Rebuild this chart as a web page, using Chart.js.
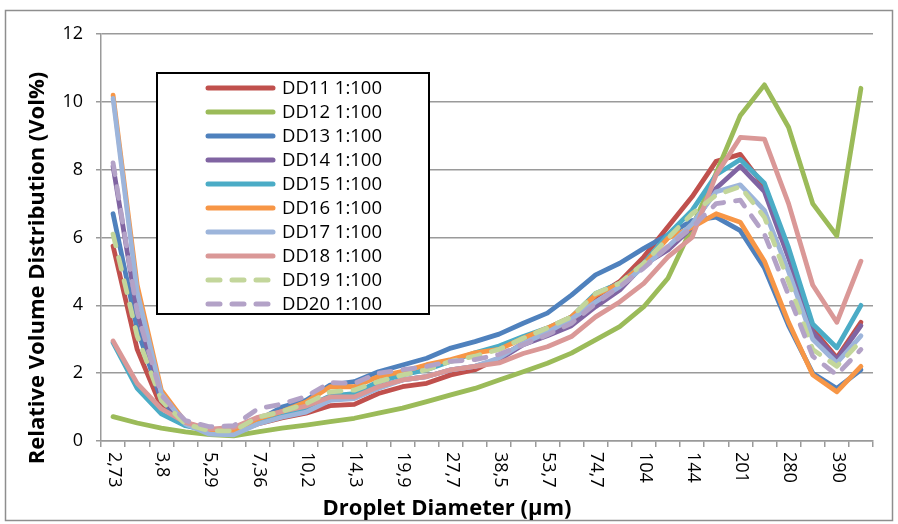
<!DOCTYPE html>
<html>
<head>
<meta charset="utf-8">
<script src="https://cdn.jsdelivr.net/npm/chart.js@4.4.1/dist/chart.umd.min.js"></script>
<style>
body { margin: 0; background: #fff; }
canvas { display: block; }
</style>
</head>
<body>
<canvas id="chart" width="898" height="524"></canvas>
<script>
// size classes in µm, the axis only labels every other one
const diameters = ['2,73','3,22','3,8','4,48','5,29','6,24','7,36','8,68','10,2','12,0','14,3','16,9',
    '19,9','23,5','27,7','32,7','38,5','45,4','53,7','63,4','74,7','88,1','104','123',
    '144','170','201','237','280','330','390','460'];

const dd11 = [5.75, 2.7, 1.0, 0.5, 0.25, 0.25, 0.5, 0.68, 0.82, 1.04, 1.08, 1.4, 1.6, 1.7, 1.95, 2.1,
    2.45, 2.88, 3.18, 3.56, 4.25, 4.7, 5.43, 6.32, 7.2, 8.25, 8.45, 7.5, 5.55, 3.3, 2.45, 3.5];
const dd12 = [0.72, 0.53, 0.38, 0.27, 0.19, 0.15, 0.27, 0.38, 0.47, 0.57, 0.67, 0.82, 0.97, 1.16, 1.36, 1.55,
    1.8, 2.04, 2.29, 2.59, 2.98, 3.37, 3.96, 4.8, 6.3, 7.9, 9.6, 10.5, 9.25, 7.0, 6.05, 10.4];
const dd13 = [6.7, 3.3, 1.2, 0.5, 0.25, 0.25, 0.6, 1.0, 1.2, 1.65, 1.75, 2.04, 2.24, 2.44, 2.74, 2.93,
    3.15, 3.47, 3.77, 4.3, 4.9, 5.24, 5.68, 6.08, 6.5, 6.6, 6.2, 5.1, 3.4, 2.0, 1.55, 2.1];
const dd14 = [8.1, 3.8, 1.3, 0.5, 0.25, 0.3, 0.6, 0.73, 0.9, 1.3, 1.3, 1.6, 1.8, 1.9, 2.1, 2.2,
    2.4, 2.84, 3.1, 3.4, 3.96, 4.45, 5.2, 5.63, 6.3, 7.45, 8.1, 7.35, 5.4, 3.2, 2.4, 3.4];
const dd15 = [2.9, 1.55, 0.8, 0.45, 0.3, 0.3, 0.6, 0.8, 1.0, 1.33, 1.4, 1.75, 1.95, 2.1, 2.35, 2.6,
    2.8, 3.08, 3.33, 3.66, 4.35, 4.65, 5.24, 6.08, 6.8, 7.85, 8.3, 7.6, 5.7, 3.45, 2.75, 4.0];
const dd16 = [10.2, 4.6, 1.5, 0.55, 0.3, 0.3, 0.65, 0.87, 1.15, 1.6, 1.6, 1.9, 2.05, 2.25, 2.4, 2.6,
    2.7, 3.03, 3.33, 3.66, 4.3, 4.65, 5.2, 5.98, 6.3, 6.7, 6.45, 5.3, 3.5, 1.95, 1.45, 2.2];
const dd17 = [10.1, 4.4, 1.4, 0.5, 0.2, 0.18, 0.5, 0.7, 0.85, 1.2, 1.25, 1.55, 1.8, 1.9, 2.1, 2.2,
    2.45, 2.88, 3.2, 3.6, 4.1, 4.55, 5.14, 5.73, 6.4, 7.35, 7.55, 6.8, 5.0, 3.0, 2.3, 3.1];
const dd18 = [2.95, 1.7, 0.95, 0.55, 0.35, 0.4, 0.7, 0.87, 1.03, 1.3, 1.3, 1.6, 1.8, 1.9, 2.1, 2.2,
    2.3, 2.58, 2.78, 3.08, 3.66, 4.1, 4.65, 5.43, 6.0, 7.85, 8.95, 8.9, 7.0, 4.6, 3.5, 5.3];
const dd19 = [6.1, 3.1, 1.2, 0.5, 0.3, 0.3, 0.7, 0.87, 1.1, 1.45, 1.5, 1.75, 1.95, 2.1, 2.35, 2.5,
    2.7, 3.03, 3.33, 3.66, 4.35, 4.65, 5.24, 5.98, 6.7, 7.25, 7.5, 6.6, 4.7, 2.7, 2.2, 2.95];
const dd20 = [8.2, 3.8, 1.35, 0.6, 0.42, 0.45, 0.95, 1.09, 1.31, 1.72, 1.7, 2.0, 2.1, 2.2, 2.35, 2.4,
    2.55, 2.84, 3.13, 3.47, 4.05, 4.55, 5.1, 5.73, 6.3, 7.0, 7.1, 6.1, 4.3, 2.5, 1.95, 2.7];

const seriesNames = ['DD11 1:100','DD12 1:100','DD13 1:100','DD14 1:100','DD15 1:100',
    'DD16 1:100','DD17 1:100','DD18 1:100','DD19 1:100','DD20 1:100'];
const seriesValues = [dd11, dd12, dd13, dd14, dd15, dd16, dd17, dd18, dd19, dd20];

const xTitle = 'Droplet Diameter (µm)';
const yTitle = 'Relative Volume Distribution (Vol%)';

const colors = ['#C0504D','#9BBB59','#4F81BD','#8064A2','#4BACC6',
    '#F79646','#9DB5DB','#DA9897','#C3D69B','#B3A2C7'];
const dashed = [false, false, false, false, false, false, false, false, true, true];

const FONT = '"Open Sans", "Liberation Sans", sans-serif';
const GRID = '#9a9a9a';

Chart.defaults.font.family = FONT;
Chart.defaults.color = '#000';

// excel style frame, rotated category labels, axis titles and boxed legend
const excelLook = {
    id: 'excelLook',
    beforeDraw(chart) {
        const ctx = chart.ctx;
        ctx.save();
        ctx.fillStyle = '#fff';
        ctx.fillRect(0, 0, chart.width, chart.height);
        ctx.strokeStyle = '#8e8e8e';
        ctx.lineWidth = 1.5;
        ctx.strokeRect(5.5, 10.5, chart.width - 11, chart.height - 14);
        ctx.restore();
    },
    afterDraw(chart) {
        const ctx = chart.ctx;
        const xs = chart.scales.x;
        const area = chart.chartArea;
        ctx.save();
        ctx.fillStyle = '#000';

        // category labels read top to bottom
        ctx.font = '18px ' + FONT;
        ctx.textAlign = 'left';
        ctx.textBaseline = 'middle';
        diameters.forEach((lab, i) => {
            if (i % 2) return;
            ctx.save();
            ctx.translate(xs.getPixelForValue(i) + 1, area.bottom + 11);
            ctx.rotate(Math.PI / 2);
            ctx.fillText(lab, 0, 0);
            ctx.restore();
        });

        ctx.font = 'bold 22px ' + FONT;
        ctx.textAlign = 'center';
        ctx.fillText(xTitle, 447, 509);
        ctx.save();
        ctx.translate(38, 268);
        ctx.rotate(-Math.PI / 2);
        ctx.fillText(yTitle, 0, 0);
        ctx.restore();

        // legend box
        ctx.fillStyle = '#fff';
        ctx.fillRect(157, 73, 272, 241);
        ctx.strokeStyle = '#000';
        ctx.lineWidth = 2;
        ctx.strokeRect(157, 73, 272, 241);
        ctx.font = '18.5px ' + FONT;
        ctx.textAlign = 'left';
        chart.data.datasets.forEach((ds, i) => {
            const y = 88 + i * 24;
            ctx.strokeStyle = ds.borderColor;
            ctx.lineWidth = 5;
            ctx.lineCap = 'round';
            ctx.setLineDash(ds.borderDash);
            ctx.beginPath();
            ctx.moveTo(208, y);
            ctx.lineTo(273, y);
            ctx.stroke();
            ctx.setLineDash([]);
            ctx.fillStyle = '#000';
            ctx.fillText(ds.label, 282, y + 1);
        });
        ctx.restore();
    }
};

const datasets = seriesValues.map((vals, i) => ({
    label: seriesNames[i],
    data: vals,
    borderColor: colors[i],
    backgroundColor: colors[i],
    borderWidth: 4.8,
    borderDash: dashed[i] ? [12, 12] : [],
    borderCapStyle: 'round',
    borderJoinStyle: 'round',
    pointRadius: 0,
    tension: 0,
    fill: false,
    order: seriesValues.length - 1 - i      // later series drawn on top, like excel
}));

new Chart(document.getElementById('chart'), {
    type: 'line',
    data: { labels: diameters, datasets: datasets },
    options: {
        responsive: false,
        animation: false,
        devicePixelRatio: 1,
        layout: { padding: { top: 34, right: 25, left: 0, bottom: 0 } },
        plugins: {
            legend: { display: false },
            tooltip: { enabled: false }
        },
        scales: {
            x: {
                type: 'category',
                offset: true,
                ticks: { display: false, autoSkip: false },
                grid: { display: true, drawOnChartArea: false, drawTicks: true, tickLength: 6,
                    color: GRID, lineWidth: 1.5, offset: true },
                border: { display: true, color: GRID, width: 1.5 },
                afterFit: (scale) => { scale.height = 83; }
            },
            y: {
                min: 0,
                max: 12,
                ticks: { stepSize: 2, padding: 13, font: { size: 18 }, color: '#000' },
                grid: { color: GRID, lineWidth: 1.5, drawTicks: true, tickLength: 5 },
                border: { display: true, color: GRID, width: 1.5 },
                afterFit: (scale) => { scale.width = 101; }
            }
        }
    },
    plugins: [excelLook]
});
</script>
</body>
</html>
